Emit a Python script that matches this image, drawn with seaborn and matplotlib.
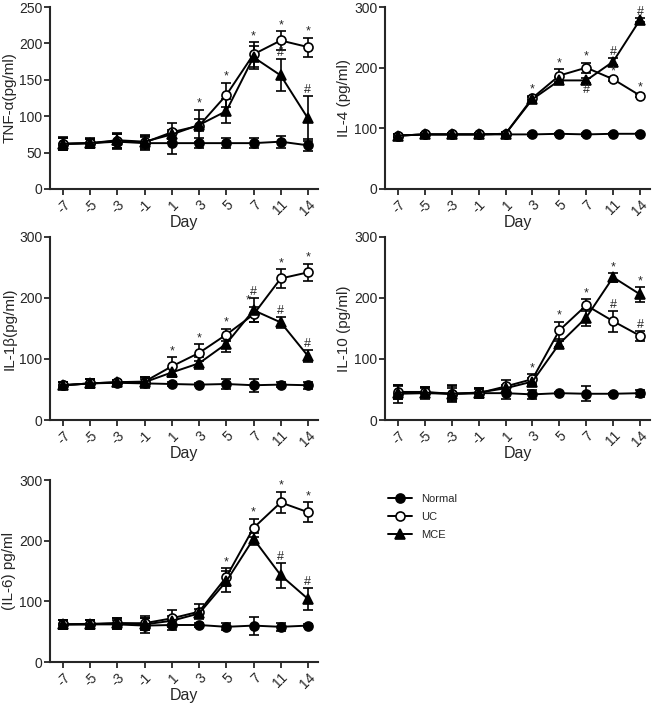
import numpy as np
import pandas as pd
import seaborn as sns
import matplotlib.pyplot as plt
from matplotlib.lines import Line2D

days = ['-7', '-5', '-3', '-1', '1', '3', '5', '7', '11', '14']
groups = ['Normal', 'UC', 'MCE']

# TNF-alpha
tnf_normal = [62, 63, 65, 63, 63, 63, 63, 63, 65, 60]
tnf_normal_err = [9, 7, 10, 8, 15, 7, 7, 7, 8, 8]
tnf_uc = [62, 63, 66, 64, 78, 87, 129, 185, 204, 195]
tnf_uc_err = [8, 6, 10, 10, 13, 22, 17, 17, 13, 13]
tnf_mce = [62, 63, 67, 65, 75, 88, 107, 181, 156, 97]
tnf_mce_err = [8, 6, 10, 8, 6, 8, 17, 16, 22, 31]
tnf_marks = [(5, '*', 'UC', 'up'), (6, '*', 'UC', 'up'), (7, '*', 'UC', 'up'), (8, '*', 'UC', 'up'),
             (9, '*', 'UC', 'up'), (8, '#', 'MCE', 'up'), (9, '#', 'MCE', 'up')]

# IL-4
il4_normal = [88, 90, 90, 90, 90, 90, 91, 90, 91, 91]
il4_normal_err = [3, 3, 3, 3, 3, 2, 2, 2, 2, 2]
il4_uc = [88, 90, 90, 90, 91, 150, 187, 200, 181, 154]
il4_uc_err = [3, 3, 3, 3, 3, 4, 10, 8, 3, 3]
il4_mce = [88, 90, 90, 90, 91, 148, 179, 179, 210, 279]
il4_mce_err = [3, 3, 3, 3, 3, 4, 5, 4, 6, 3]
il4_marks = [(5, '*', 'UC', 'up'), (6, '*', 'UC', 'up'), (7, '*', 'UC', 'up'), (8, '*', 'UC', 'up'),
             (9, '*', 'UC', 'up'), (7, '#', 'MCE', 'down'), (8, '#', 'MCE', 'up'), (9, '#', 'MCE', 'up')]

# IL-1beta
il1_normal = [57, 60, 61, 60, 59, 58, 59, 57, 58, 57]
il1_normal_err = [6, 8, 3, 8, 4, 3, 8, 11, 4, 6]
il1_uc = [57, 60, 62, 63, 88, 110, 140, 173, 232, 242]
il1_uc_err = [5, 7, 3, 8, 15, 14, 10, 13, 15, 14]
il1_mce = [57, 60, 62, 62, 78, 93, 125, 180, 160, 105]
il1_mce_err = [5, 7, 3, 8, 8, 10, 13, 20, 9, 10]
il1_marks = [(4, '*', 'UC', 'up'), (5, '*', 'UC', 'up'), (6, '*', 'UC', 'up'), (7, '*', 'UC', 'left'),
             (8, '*', 'UC', 'up'), (9, '*', 'UC', 'up'), (7, '#', 'MCE', 'up'), (8, '#', 'MCE', 'up'),
             (9, '#', 'MCE', 'up')]

# IL-10
il10_normal = [43, 44, 43, 44, 44, 42, 44, 43, 43, 44]
il10_normal_err = [15, 10, 14, 8, 10, 8, 2, 12, 2, 6]
il10_uc = [46, 46, 43, 44, 55, 67, 147, 188, 162, 138]
il10_uc_err = [12, 8, 12, 7, 10, 8, 14, 10, 17, 8]
il10_mce = [45, 45, 43, 45, 52, 63, 125, 168, 234, 206]
il10_mce_err = [10, 8, 10, 7, 6, 6, 5, 14, 7, 12]
il10_marks = [(5, '*', 'UC', 'up'), (6, '*', 'UC', 'up'), (7, '*', 'UC', 'up'), (8, '*', 'MCE', 'up'),
              (9, '*', 'MCE', 'up'), (8, '#', 'UC', 'up'), (9, '#', 'UC', 'up')]

# IL-6
il6_normal = [62, 62, 62, 60, 61, 61, 58, 60, 58, 60]
il6_normal_err = [8, 7, 8, 12, 8, 3, 6, 15, 7, 2]
il6_uc = [62, 63, 64, 64, 72, 83, 140, 221, 263, 247]
il6_uc_err = [8, 7, 9, 12, 14, 12, 15, 15, 18, 16]
il6_mce = [62, 62, 64, 62, 68, 80, 133, 203, 143, 104]
il6_mce_err = [8, 7, 8, 10, 8, 8, 17, 10, 21, 18]
il6_marks = [(6, '*', 'UC', 'up'), (7, '*', 'UC', 'up'), (8, '*', 'UC', 'up'), (9, '*', 'UC', 'up'),
             (8, '#', 'MCE', 'up'), (9, '#', 'MCE', 'up')]

style = {'Normal': dict(marker='o', mfc='black'),
         'UC': dict(marker='o', mfc='white'),
         'MCE': dict(marker='^', mfc='black')}

sns.set_style('ticks')
plt.rcParams['font.family'] = ['Liberation Sans', 'DejaVu Sans']


def draw_panel(ax, normal, normal_err, uc, uc_err, mce, mce_err, marks, ylabel, ymax, ystep):
    df = pd.DataFrame({'x': list(range(len(days))) * 3,
                       'group': np.repeat(groups, len(days)),
                       'value': normal + uc + mce,
                       'err': normal_err + uc_err + mce_err})
    for g in groups:
        sub = df[df.group == g]
        ax.errorbar(sub.x, sub.value, yerr=sub.err, fmt='none', ecolor='black',
                    elinewidth=1.2, capsize=3.5, capthick=1.2, zorder=2)
        sns.lineplot(data=sub, x='x', y='value', color='black', linewidth=1.4,
                     markersize=6.5, mec='black', mew=1.2, ax=ax, zorder=3, **style[g])
    for i, sym, g, side in marks:
        row = df[(df.group == g) & (df.x == i)].iloc[0]
        if side == 'up':
            ax.annotate(sym, (i, row.value + row.err), xytext=(0, 0), textcoords='offset points',
                        ha='center', va='bottom', fontsize=9)
        elif side == 'down':
            ax.annotate(sym, (i, row.value - row.err), xytext=(0, -1), textcoords='offset points',
                        ha='center', va='top', fontsize=9)
        else:
            ax.annotate(sym, (i, row.value + row.err), xytext=(-4, 0), textcoords='offset points',
                        ha='center', va='bottom', fontsize=9)
    ax.set_xlim(-0.48, 9.37)
    ax.set_ylim(0, ymax)
    ax.set_yticks(np.arange(0, ymax + 1, ystep))
    ax.set_xticks(range(len(days)))
    ax.set_xticklabels(days, rotation=45, ha='right', rotation_mode='anchor')
    ax.set_xlabel('Day', fontsize=11.5, labelpad=-2.5)
    ax.set_ylabel(ylabel, fontsize=11, labelpad=2)
    ax.tick_params(labelsize=10, width=1.3, length=4, pad=1.5)
    ax.tick_params(axis='x', pad=2)
    sns.despine(ax=ax)
    for s in ['left', 'bottom']:
        ax.spines[s].set_linewidth(1.5)


fig = plt.figure(figsize=(6.61, 7.05), dpi=100)
W, H = 661, 705


def place(l, t, r, b):
    return fig.add_axes([l / W, 1 - b / H, (r - l) / W, (b - t) / H])


ax1 = place(50, 7, 318, 189)
ax2 = place(385, 7, 650, 189)
ax3 = place(50, 237, 318, 420)
ax4 = place(385, 237, 650, 420)
ax5 = place(50, 480, 318, 662)

draw_panel(ax1, tnf_normal, tnf_normal_err, tnf_uc, tnf_uc_err, tnf_mce, tnf_mce_err,
           tnf_marks, 'TNF-α(pg/ml)', 250, 50)
draw_panel(ax2, il4_normal, il4_normal_err, il4_uc, il4_uc_err, il4_mce, il4_mce_err,
           il4_marks, 'IL-4 (pg/ml)', 300, 100)
draw_panel(ax3, il1_normal, il1_normal_err, il1_uc, il1_uc_err, il1_mce, il1_mce_err,
           il1_marks, 'IL-1β(pg/ml)', 300, 100)
draw_panel(ax4, il10_normal, il10_normal_err, il10_uc, il10_uc_err, il10_mce, il10_mce_err,
           il10_marks, 'IL-10 (pg/ml)', 300, 100)
draw_panel(ax5, il6_normal, il6_normal_err, il6_uc, il6_uc_err, il6_mce, il6_mce_err,
           il6_marks, '(IL-6) pg/ml', 300, 100)

handles = [Line2D([], [], color='black', linewidth=1.4, markersize=6.5, mec='black', mew=1.2, **style[g])
           for g in groups]
fig.legend(handles, groups, loc='upper left', bbox_to_anchor=(378 / W, 1 - 484 / H),
           frameon=False, fontsize=8, handlelength=2.2, labelspacing=0.7)

fig.savefig('out.png', dpi=100)
